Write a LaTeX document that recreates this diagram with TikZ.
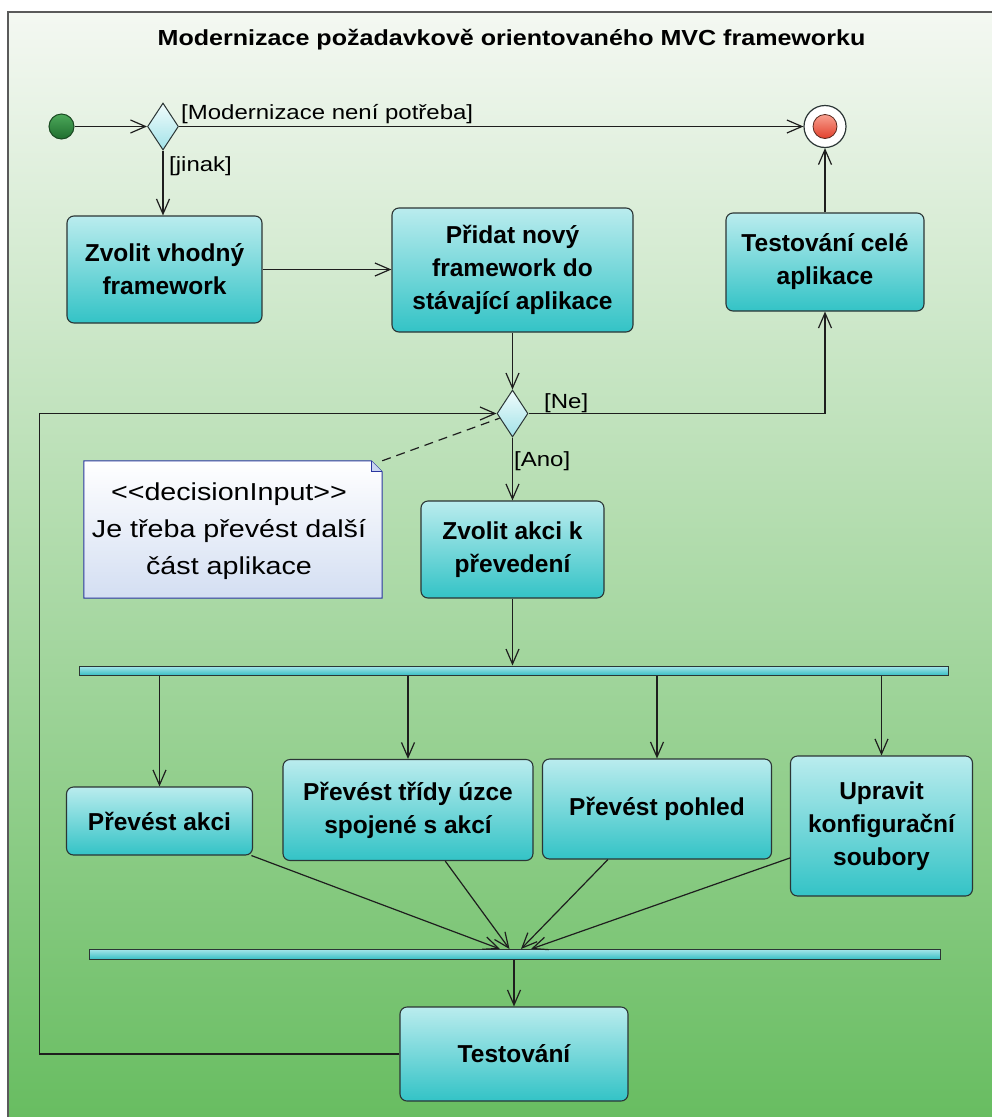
\documentclass[tikz,border=0pt]{standalone}
\usepackage{fontspec}
\setmainfont{Liberation Sans}
\newfontfamily\regfont[FakeStretch=1.17]{Liberation Sans}
\newfontfamily\ttlfont[FakeStretch=1.15]{Liberation Sans}
\usetikzlibrary{arrows.meta,shapes.geometric,calc}
\definecolor{boxtop}{HTML}{BAECEE}
\definecolor{boxbot}{HTML}{33C3C6}
\definecolor{border}{HTML}{2B3535}
\definecolor{bgtop}{HTML}{F4F8F2}
\definecolor{bgmid}{HTML}{B4DDAF}
\definecolor{bgbot}{HTML}{68BD61}
\definecolor{framec}{HTML}{5A5A5A}
\definecolor{linec}{HTML}{1E1E1E}
\definecolor{notebot}{HTML}{D3DEF2}
\definecolor{noteline}{HTML}{2A36A0}
\definecolor{foldc}{HTML}{C9D5F0}
\definecolor{bartop}{HTML}{A9E7EB}
\definecolor{barbot}{HTML}{3ABFC5}
\definecolor{dtop}{HTML}{F0FCFC}
\definecolor{dbot}{HTML}{A2E2E8}
\definecolor{inittop}{HTML}{4CA85A}
\definecolor{initbot}{HTML}{1F6E2E}
\definecolor{initd}{HTML}{1A4A22}
\definecolor{fintop}{HTML}{F8A090}
\definecolor{finbot}{HTML}{E2402C}
\definecolor{finline}{HTML}{5A2A20}
\begin{document}
\begin{tikzpicture}[x=1pt,y=-1pt,
  act/.style={rectangle, rounded corners=7pt, draw=border, line width=1.1pt,
    top color=boxtop, bottom color=boxbot, align=center, inner sep=0pt,
    font=\fontsize{24.5}{33}\selectfont\bfseries},
  bar/.style={rectangle, draw=border, line width=1pt, top color=bartop,
    bottom color=barbot, inner sep=0pt},
  dec/.style={diamond, draw=border, line width=1pt, top color=dtop,
    bottom color=dbot, inner sep=0pt, minimum width=31pt, minimum height=47pt},
  arr/.style={draw=linec, line width=1.2pt, -{Straight Barb[length=15pt,width=13pt]}},
  lbl/.style={font=\regfont\fontsize{20.5}{24}\selectfont, inner sep=0pt, text=black, anchor=base west},
]
\useasboundingbox (0,0) rectangle (992,1117);
\fill[white] (0,0) rectangle (992,1117);
\shade[top color=bgtop, middle color=bgmid, bottom color=bgbot] (8,12) rectangle (992,1117);
\draw[framec, line width=1.5pt] (8,1117) -- (8,12) -- (992,12);

\node[font=\ttlfont\bfseries\fontsize{21.8}{26}\selectfont, anchor=base, inner sep=0pt] (title) at (511.5,45) {Modernizace požadavkově orientovaného MVC frameworku};

% initial / decision / final
\node[circle, draw=initd, line width=1pt, top color=inittop, bottom color=initbot, minimum size=25pt, inner sep=0pt] (init) at (61.5,126.5) {};
\node[dec] (d1) at (163,126.5) {};
\node[circle, draw=border, line width=1.2pt, fill=white, minimum size=42pt, inner sep=0pt] (fin) at (825,126.5) {};
\node[circle, draw=finline, line width=0.8pt, top color=fintop, bottom color=finbot, minimum size=24pt, inner sep=0pt] (finin) at (fin) {};

% actions
\node[act, minimum width=195pt, minimum height=107pt] (b1) at (164.5,269.5) {Zvolit vhodný\\framework};
\node[act, minimum width=241pt, minimum height=124pt] (b2) at (512.5,270) {Přidat nový\\framework do\\stávající aplikace};
\node[act, minimum width=198pt, minimum height=98pt] (b3) at (825,262) {Testování celé\\aplikace};
\node[dec] (d2) at (512.5,413.5) {};
\node[act, minimum width=183pt, minimum height=97pt] (b4) at (512.5,549.5) {Zvolit akci k\\převedení};
\node[bar, minimum width=869pt, minimum height=9pt] (bar1) at (513.5,670.5) {};
\node[act, minimum width=186pt, minimum height=68pt] (a1) at (159.5,821) {Převést akci};
\node[act, minimum width=250pt, minimum height=101pt] (a2) at (408,810) {Převést třídy úzce\\spojené s akcí};
\node[act, minimum width=229pt, minimum height=100pt] (a3) at (657,809) {Převést pohled};
\node[act, minimum width=182pt, minimum height=140pt] (a4) at (881.5,826) {Upravit\\konfigurační\\soubory};
\node[bar, minimum width=851pt, minimum height=10pt] (bar2) at (514.5,954) {};
\node[act, minimum width=228pt, minimum height=94pt] (t) at (514,1054) {Testování};

% note
\node[minimum width=298pt, minimum height=137pt, inner sep=0pt] (note) at (233,529.5) {};
\shade[top color=white, bottom color=notebot, draw=noteline, line width=1pt]
  (note.south west) -- (note.north west) -- ($(note.north east)+(-11,0)$)
  -- ($(note.north east)+(0,11)$) -- (note.south east) -- cycle;
\filldraw[fill=foldc, draw=noteline, line width=1pt]
  ($(note.north east)+(-11,0)$) -- ($(note.north east)+(-11,11)$) -- ($(note.north east)+(0,11)$);
\node[font=\regfont\fontsize{24.5}{37}\selectfont, align=center, inner sep=0pt] (notetxt) at (229,531) {{<}{<}decisionInput{>}{>}\\Je třeba převést další\\část aplikace};

% labels
\node[lbl] (l1) at (181,119) {[Modernizace není potřeba]};
\node[lbl] (l2) at (169,171) {[jinak]};
\node[lbl] (l3) at (544,408) {[Ne]};
\node[lbl] (l4) at (514,466) {[Ano]};

% join coordinates
\coordinate (j1) at (500,949);
\coordinate (j2) at (509.5,949);
\coordinate (j3) at (521,949);
\coordinate (j4) at (531,949);

% connectors
\draw[arr] (init) -- (d1);
\draw[arr] (d1) -- (fin);
\draw[arr] (d1.south) -- (d1.south |- b1.north);
\draw[arr] (b1.east) -- (b1.east -| b2.west);
\draw[arr] (b3) -- (fin);
\draw[arr] (b2) -- (d2);
\draw[arr] (d2.east) -| (b3.south);
\draw[arr] (d2) -- (b4);
\draw[draw=linec, line width=1.2pt, dash pattern=on 9pt off 6pt] (note.north east) -- (d2);
\draw[arr] (b4.south) -- (b4.south |- bar1.north);
\draw[arr] (a1.north |- bar1.south) -- (a1.north);
\draw[arr] (a2.north |- bar1.south) -- (a2.north);
\draw[arr] (a3.north |- bar1.south) -- (a3.north);
\draw[arr] (a4.north |- bar1.south) -- (a4.north);
\draw[arr] (a1) -- (j1);
\draw[arr] (a2) -- (j2);
\draw[arr] (a3) -- (j3);
\draw[arr] (a4) -- (j4);
\draw[arr] (bar2.south -| t.north) -- (t.north);
\draw[arr] (t.west) -- ++(-360,0) |- (d2.west);
\end{tikzpicture}
\end{document}
